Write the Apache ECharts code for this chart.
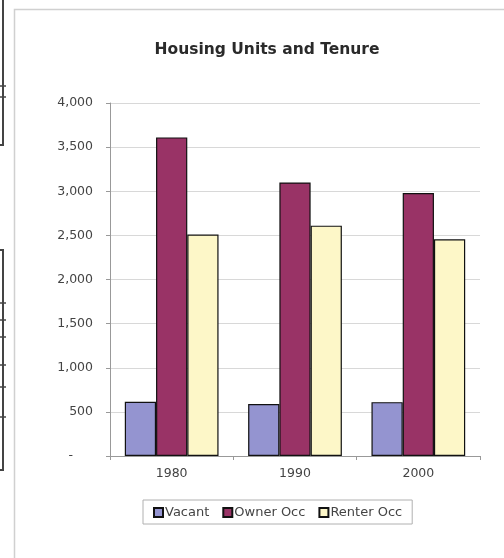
<!DOCTYPE html>
<html>
<head>
<meta charset="utf-8">
<script src="https://cdn.jsdelivr.net/npm/echarts@6/dist/echarts.min.js"></script>
<style>
  html, body { margin: 0; padding: 0; background: #fff; }
  #chart { width: 504px; height: 558px; }
</style>
</head>
<body>
<div id="chart"></div>
<script>
// categories and series
const years = ['1980', '1990', '2000']
const vacant = [615, 590, 610]
const ownerOcc = [3610, 3100, 2980]
const renterOcc = [2510, 2610, 2455]
const yTicks = [0, 500, 1000, 1500, 2000, 2500, 3000, 3500, 4000]

const FONT = 'DejaVu Sans, Verdana, sans-serif'
const chart = echarts.init(document.getElementById('chart'))

const barBorder = { borderColor: '#111', borderWidth: 1.2 }

// little ticks on the stray neighbouring boxes at the left edge
const edgeTicks = [86, 97, 303, 320, 337, 365, 387, 417].map(y => ({
  type: 'line', shape: { x1: 0, y1: y, x2: 6, y2: y }, style: { stroke: '#444', lineWidth: 1.5 }
}))

chart.setOption({
  animation: false,
  backgroundColor: '#fff',
  title: {
    text: 'Housing Units and Tenure',
    left: 262,
    top: 37,
    textAlign: 'center',
    textStyle: { fontFamily: FONT, fontSize: 15.5, fontWeight: 'bold', color: '#2a2a2a' }
  },
  // chart frame and stray edges of the neighbouring object
  graphic: [
    { type: 'rect', shape: { x: 14.5, y: 9.5, width: 500, height: 560 }, style: { fill: 'none', stroke: '#d0d0d0', lineWidth: 1.5 } },
    { type: 'rect', shape: { x: -5, y: -5, width: 8, height: 150 }, style: { fill: 'none', stroke: '#444', lineWidth: 2 } },
    { type: 'rect', shape: { x: -5, y: 250, width: 8, height: 220 }, style: { fill: 'none', stroke: '#444', lineWidth: 2 } }
  ].concat(edgeTicks),
  legend: {
    left: 143,
    top: 500,
    padding: [6, 10, 5, 10],
    borderColor: '#b0b0b0',
    borderWidth: 1,
    itemWidth: 9,
    itemHeight: 9,
    itemGap: 13,
    icon: 'rect',
    textStyle: { fontFamily: FONT, fontSize: 13, color: '#444', padding: [0, 0, 0, -3] },
    data: ['Vacant', 'Owner Occ', 'Renter Occ']
  },
  grid: { left: 110, right: 24, top: 103, bottom: 102 },
  xAxis: {
    type: 'category',
    data: years,
    axisLine: { lineStyle: { color: '#999' } },
    axisTick: { show: true, length: 4, lineStyle: { color: '#999' } },
    axisLabel: { fontFamily: FONT, fontSize: 12.5, color: '#444', margin: 11 }
  },
  yAxis: {
    type: 'value',
    min: yTicks[0],
    max: yTicks[yTicks.length - 1],
    interval: yTicks[1] - yTicks[0],
    axisLine: { show: true, lineStyle: { color: '#999' } },
    axisTick: { show: true, length: 4, lineStyle: { color: '#999' } },
    splitLine: { lineStyle: { color: '#d8d8d8' } },
    axisLabel: {
      fontFamily: FONT,
      fontSize: 12.5,
      color: '#444',
      margin: 17,
      formatter: v => v === 0 ? '-     ' : v.toLocaleString('en-US')
    }
  },
  series: [
    { name: 'Vacant', type: 'bar', data: vacant, barGap: '0%', barCategoryGap: '24%', itemStyle: Object.assign({ color: '#9494d0' }, barBorder) },
    { name: 'Owner Occ', type: 'bar', data: ownerOcc, itemStyle: Object.assign({ color: '#993366' }, barBorder) },
    { name: 'Renter Occ', type: 'bar', data: renterOcc, itemStyle: Object.assign({ color: '#fdf7c8' }, barBorder) }
  ]
})
</script>
</body>
</html>
